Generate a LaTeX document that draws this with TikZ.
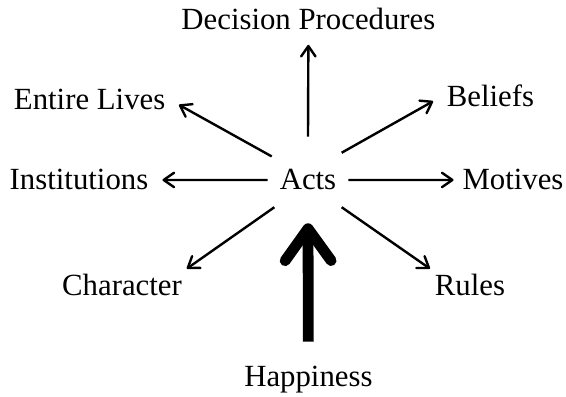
\documentclass[tikz,border=0pt]{standalone}
\usepackage{fontspec}
\setmainfont{Liberation Serif}
\usetikzlibrary{arrows.meta}

\begin{document}
\begin{tikzpicture}[font=\fontsize{21.9}{26}\selectfont,
  lbl/.style={anchor=base, inner sep=3.33pt},
  spoke/.style={-{Straight Barb[round, length=2.6mm, width=3.6mm]}, line width=0.6mm},
  big/.style={-{Straight Barb[round, length=8mm, width=11.5mm]}, line width=2.7mm}]
\useasboundingbox (0,0) rectangle (14.15,9.9);
\node[circle, minimum size=2.15cm, inner sep=0pt, anchor=base] (acts) at (7.7,5.15) {Acts};
\node[lbl] (proc) at (7.71,9.16) {Decision Procedures};
\node[lbl] (lives) at (2.24,7.15) {Entire Lives};
\node[lbl] (beliefs) at (12.26,7.225) {Beliefs};
\node[lbl] (inst) at (1.975,5.15) {Institutions};
\node[lbl] (motives) at (12.825,5.15) {Motives};
\node[lbl] (character) at (3.05,2.525) {Character};
\node[lbl] (rules) at (11.75,2.525) {Rules};
\node[lbl] (happy) at (7.71,0.25) {Happiness};

\draw[spoke, shorten >=0.25cm] (acts.90) -- (proc.south);
\draw[spoke, shorten >=0.25cm] (acts.147) -- (lives.east);
\draw[spoke, shorten >=0.25cm] (acts.39) -- (beliefs.west);
\draw[spoke, shorten >=0.23cm, shorten <=-0.75mm] (acts.180) -- (inst.east);
\draw[spoke, shorten >=0.1cm, shorten <=-0.75mm] (acts.0) -- (motives.west);
\draw[spoke] (acts.219) -- (character.north east);
\draw[spoke] (acts.321) -- (rules.north west);
\draw[big, shorten <=0.475cm] (happy.north) -- (acts.270);
\end{tikzpicture}
\end{document}
